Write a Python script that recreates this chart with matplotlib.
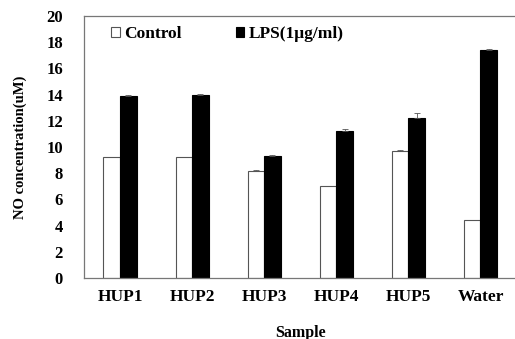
import numpy as np
import matplotlib.pyplot as plt

plt.rcParams['font.family'] = ['Liberation Serif', 'DejaVu Serif']
plt.rcParams['font.weight'] = 'bold'

samples = ['HUP1', 'HUP2', 'HUP3', 'HUP4', 'HUP5', 'Water']
control = [9.2, 9.2, 8.2, 7.0, 9.7, 4.4]
control_err = [0.05, 0.05, 0.05, 0.05, 0.05, 0.05]
lps = [13.9, 14.0, 9.3, 11.2, 12.2, 17.4]
lps_err = [0.08, 0.05, 0.1, 0.15, 0.4, 0.05]

fig = plt.figure(figsize=(5.15, 3.39), dpi=100)
ax = fig.add_axes([0.163, 0.18, 0.84, 0.773])

x = np.arange(len(samples))
w = 0.23
ax.bar(x - w/2, control, w, color='white', edgecolor='#555555', linewidth=0.8,
       yerr=[np.zeros(len(x)), control_err], capsize=2.5,
       error_kw=dict(ecolor='#555555', elinewidth=0.6, capthick=0.6),
       label='Control')
ax.bar(x + w/2, lps, w, color='black', edgecolor='black', linewidth=0.8,
       yerr=[np.zeros(len(x)), lps_err], capsize=2.5,
       error_kw=dict(ecolor='#555555', elinewidth=0.6, capthick=0.6),
       label='LPS(1\u03bcg/ml)')

ax.set_xlim(-0.5, 5.5)
ax.set_ylim(0, 20)
ax.set_yticks(np.arange(0, 21, 2))
ax.set_xticks(x)
ax.set_xticklabels(samples, fontsize=12.5, fontweight='bold')
ax.tick_params(axis='y', labelsize=12, length=0, pad=15)
ax.tick_params(axis='x', length=0, pad=8)
for s in ['left', 'bottom', 'top']:
    ax.spines[s].set_color('#777777')
    ax.spines[s].set_linewidth(0.9)
ax.spines['right'].set_visible(False)

ax.set_xlabel('Sample', fontsize=11.5, fontweight='bold', labelpad=14)
ax.set_ylabel('NO concentration(uM)', fontsize=10.5, fontweight='bold', labelpad=14)

ax.legend(loc='upper left', ncol=2, frameon=False, fontsize=12.5,
          handlelength=0.5, handleheight=0.5, handletextpad=0.25,
          columnspacing=3.1, bbox_to_anchor=(0.027, 1.02))

fig.savefig('out.png', dpi=100)
